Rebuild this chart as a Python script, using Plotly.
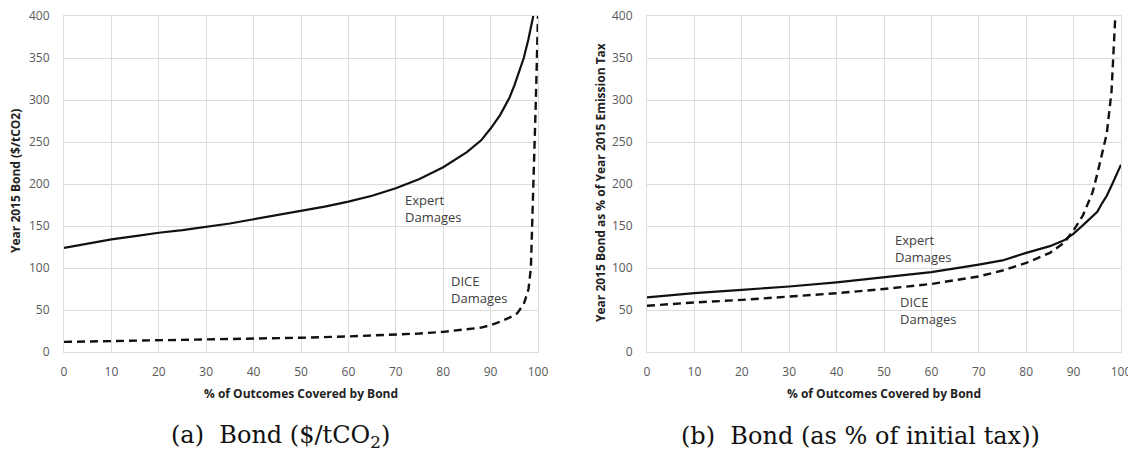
import plotly.graph_objects as go

# ---- data ----
a_exp_x = [0, 5, 10, 15, 20, 25, 30, 35, 40, 45, 50, 55, 60, 65, 70, 75, 80, 85, 88, 90, 92, 94, 95, 96, 97, 98, 99]
a_exp_y = [124, 129, 134, 138, 142, 145, 149, 153, 158, 163, 168, 173, 179, 186, 195, 206, 220, 238, 252, 266, 282, 303, 317, 333, 350, 373, 400]

a_dice_x = [0, 10, 20, 30, 40, 50, 60, 70, 75, 80, 85, 88, 90, 92, 94, 95.6, 97, 98, 98.5, 98.8, 99.2, 99.5, 100]
a_dice_y = [12, 13, 14, 14.5, 15.5, 17, 18.5, 20.5, 22, 24, 27, 29, 32, 36, 41, 46, 57, 75, 100, 150, 220, 290, 400]

b_exp_x = [0, 10, 20, 30, 40, 50, 60, 70, 75, 80, 85, 88, 90, 92, 94, 95, 96, 97, 98, 99, 100]
b_exp_y = [65, 70, 74, 78, 83, 89, 95, 104, 109, 118, 126, 133, 141, 151, 161, 167, 177, 186, 198, 211, 223]

b_dice_x = [0, 10, 20, 30, 40, 50, 60, 70, 75, 80, 85, 88, 90, 92, 94, 95, 96, 97, 98, 98.5, 98.8]
b_dice_y = [55, 59, 62, 66, 70, 75, 81, 90, 97, 106, 118, 130, 145, 163, 190, 212, 235, 260, 310, 360, 400]

x_ticks = [0, 10, 20, 30, 40, 50, 60, 70, 80, 90, 100]
y_ticks = [0, 50, 100, 150, 200, 250, 300, 350, 400]

# page body has an 8px margin: the figure is drawn offset by (8, 8)
OFF = 8
W, H = 1136 - OFF, 451 - OFF
ML, MR, MT, MB = 64 - OFF, 15, 16 - OFF, 99
IW, IH = W - ML - MR, H - MT - MB
def px(x): return (x - OFF - ML) / IW
def py(y): return (H - MB - (y - OFF)) / IH

fig = go.Figure()
line_col = "#111111"
fig.add_trace(go.Scatter(x=a_exp_x, y=a_exp_y, mode="lines", line=dict(color=line_col, width=2.2),
                         xaxis="x", yaxis="y", showlegend=False, hoverinfo="skip"))
fig.add_trace(go.Scatter(x=a_dice_x, y=a_dice_y, mode="lines", line=dict(color=line_col, width=2.4, dash="8px,5px"),
                         xaxis="x", yaxis="y", showlegend=False, hoverinfo="skip"))
fig.add_trace(go.Scatter(x=b_exp_x, y=b_exp_y, mode="lines", line=dict(color=line_col, width=2.2),
                         xaxis="x2", yaxis="y2", showlegend=False, hoverinfo="skip"))
fig.add_trace(go.Scatter(x=b_dice_x, y=b_dice_y, mode="lines", line=dict(color=line_col, width=2.4, dash="8px,5px"),
                         xaxis="x2", yaxis="y2", showlegend=False, hoverinfo="skip"))

tickfont = dict(family="Open Sans, Liberation Sans, sans-serif", size=12, color="#595959")
grid = "#dcdcdc"
common_x = dict(range=[0, 100], tickvals=x_ticks, showgrid=True, gridcolor=grid, gridwidth=1,
                zeroline=False, showline=True, linecolor=grid, mirror=True, ticks="",
                tickfont=tickfont, ticklabelstandoff=9, automargin=False, fixedrange=True,
                ticklabeloverflow="allow")
common_y = dict(range=[0, 400], tickvals=y_ticks, showgrid=True, gridcolor=grid, gridwidth=1,
                zeroline=False, showline=True, linecolor=grid, mirror=True, ticks="",
                tickfont=tickfont, ticklabelstandoff=11, automargin=False, fixedrange=True,
                ticklabeloverflow="allow")

fig.update_layout(
    width=W, height=H, margin=dict(l=ML, r=MR, t=MT, b=MB, autoexpand=False),
    paper_bgcolor="white", plot_bgcolor="white",
    xaxis=dict(domain=[px(64), px(538)], anchor="y", **common_x),
    yaxis=dict(domain=[0, 1], anchor="x", **common_y),
    xaxis2=dict(domain=[px(647), px(1121)], anchor="y2", **common_x),
    yaxis2=dict(domain=[0, 1], anchor="x2", **common_y),
)

lab_font = dict(family="Open Sans, Liberation Sans, sans-serif", size=13, color="#404040")
title_font = dict(family="Open Sans, Liberation Sans, sans-serif", size=12, color="#222222")
ann = []
# series labels
ann.append(dict(x=71.5, y=171, xref="x", yref="y", text="Expert<br>Damages", showarrow=False,
                xanchor="left", yanchor="middle", align="left", font=lab_font))
ann.append(dict(x=81.3, y=75, xref="x", yref="y", text="DICE<br>Damages", showarrow=False,
                xanchor="left", yanchor="middle", align="left", font=lab_font))
ann.append(dict(x=51.8, y=123, xref="x2", yref="y2", text="Expert<br>Damages", showarrow=False,
                xanchor="left", yanchor="middle", align="left", font=lab_font))
ann.append(dict(x=52.9, y=49, xref="x2", yref="y2", text="DICE<br>Damages", showarrow=False,
                xanchor="left", yanchor="middle", align="left", font=lab_font))
# axis titles
ann.append(dict(x=px(15), y=py(181), xref="paper", yref="paper", text="<b>Year 2015 Bond ($/tCO2)</b>",
                textangle=-90, showarrow=False, xanchor="center", yanchor="middle", font=title_font))
ann.append(dict(x=px(600), y=py(183), xref="paper", yref="paper",
                text="<b>Year 2015 Bond as % of Year 2015 Emission Tax</b>",
                textangle=-90, showarrow=False, xanchor="center", yanchor="middle", font=title_font))
ann.append(dict(x=px(301), y=py(393), xref="paper", yref="paper", text="<b>% of Outcomes Covered by Bond</b>",
                showarrow=False, xanchor="center", yanchor="middle", font=title_font))
ann.append(dict(x=px(884), y=py(393), xref="paper", yref="paper", text="<b>% of Outcomes Covered by Bond</b>",
                showarrow=False, xanchor="center", yanchor="middle", font=title_font))
# captions
cap_font = dict(family="DejaVu Serif, Liberation Serif, serif", size=24, color="#111111")
ann.append(dict(x=px(280), y=py(436), xref="paper", yref="paper", text="(a)&nbsp;&nbsp;Bond ($/tCO<sub>2</sub>)",
                showarrow=False, xanchor="center", yanchor="middle", font=cap_font))
ann.append(dict(x=px(860), y=py(436), xref="paper", yref="paper", text="(b)&nbsp;&nbsp;Bond (as % of initial tax))",
                showarrow=False, xanchor="center", yanchor="middle", font=cap_font))
fig.update_layout(annotations=ann)

fig.write_html("out.html")
